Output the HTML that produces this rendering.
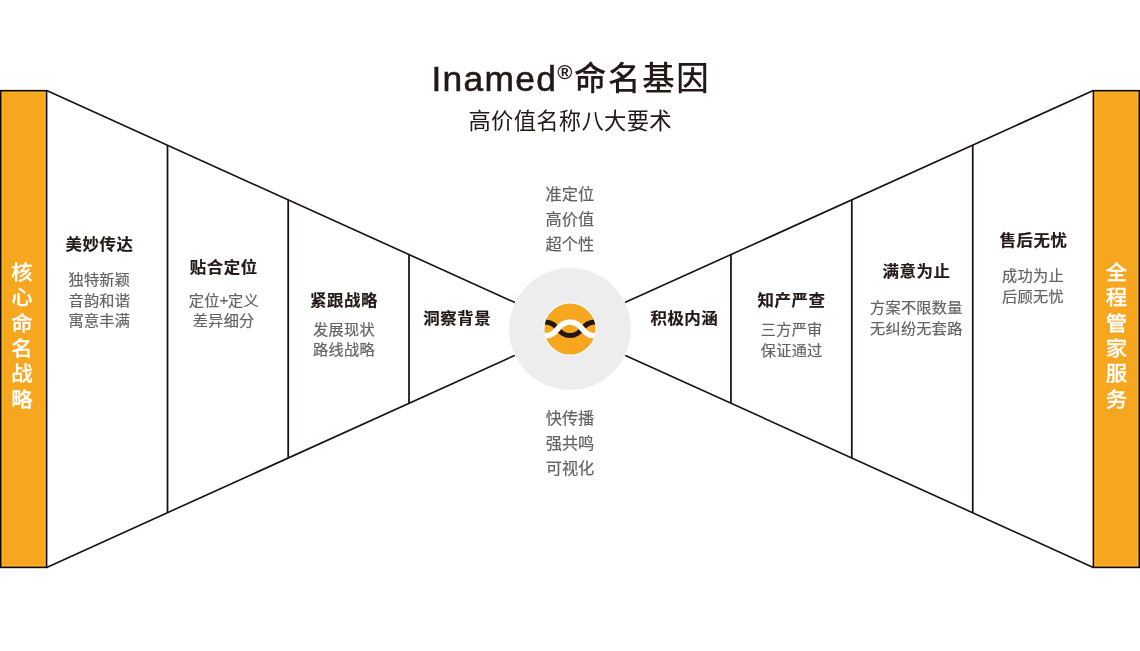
<!DOCTYPE html>
<html lang="zh-CN">
<head>
<meta charset="utf-8">
<title>Inamed®命名基因 高价值名称八大要术</title>
<style>
html,body{margin:0;padding:0;background:#fff;}
body{width:1140px;height:651px;overflow:hidden;position:relative;font-family:"Liberation Sans", "Noto Sans CJK SC", sans-serif;}
svg{position:absolute;left:0;top:0;display:block;will-change:transform;}
text{font-family:"Liberation Sans", "Noto Sans CJK SC", sans-serif;}
.h{font-weight:700;font-size:15.6px;letter-spacing:0.5px;fill:#231815;stroke:#231815;stroke-width:0.15px;text-anchor:middle;}
.b{font-weight:400;font-size:14.4px;letter-spacing:0.25px;fill:#646262;stroke:#646262;stroke-width:0.2px;text-anchor:middle;}
.c{font-weight:400;font-size:16.2px;fill:#646262;stroke:#646262;stroke-width:0.2px;text-anchor:middle;}
.v{font-weight:500;font-size:20.4px;fill:#fff;stroke:#fff;stroke-width:0.25px;text-anchor:middle;}
.t{font-weight:500;font-size:33px;fill:#231815;}
.s{font-weight:400;font-size:22.3px;letter-spacing:0.3px;fill:#231815;text-anchor:middle;}
</style>
</head>
<body>
<svg width="1140" height="651" viewBox="0 0 1140 651">

<g stroke="#1a100e" stroke-width="1.62" fill="none" stroke-linecap="butt">
<path d="M46.7 90.5 L517.9 303.86"/>
<path d="M46.7 567.4 L517.9 353.94"/>
<path d="M1093.3 90.5 L622.1 303.86"/>
<path d="M1093.3 567.4 L622.1 353.94"/>
</g>
<g stroke="#1a100e" stroke-width="1.75" fill="none" stroke-linecap="butt">
<path d="M167.5 145.20 L167.5 512.68"/>
<path d="M288.2 199.85 L288.2 458.00"/>
<path d="M409.0 254.55 L409.0 403.27"/>
<path d="M730.97 254.56 L730.97 403.26"/>
<path d="M851.8 199.85 L851.8 458.00"/>
<path d="M972.75 145.08 L972.75 512.79"/>
</g>
<rect x="0.65" y="90.68" width="45.95" height="476.72" fill="#F6A61F" stroke="#0c0a12" stroke-width="1.6"/>
<rect x="2.50" y="92.53" width="42.25" height="473.02" fill="none" stroke="#FFBD22" stroke-width="1" stroke-opacity="0.75"/>
<rect x="1093.40" y="90.68" width="45.95" height="476.72" fill="#F6A61F" stroke="#0c0a12" stroke-width="1.6"/>
<rect x="1095.25" y="92.53" width="42.25" height="473.02" fill="none" stroke="#FFBD22" stroke-width="1" stroke-opacity="0.75"/>
<circle cx="570" cy="328.95" r="61.25" fill="#fff"/>
<circle cx="570" cy="328.95" r="60.9" fill="#ededed"/>
<clipPath id="lc"><circle cx="570" cy="329.05" r="25.7"/></clipPath>
<circle cx="570" cy="329.05" r="26.75" fill="#f5fbff"/>
<circle cx="570" cy="329.05" r="25.55" fill="#F6A61F"/>
<g clip-path="url(#lc)" fill="none">
<path d="M521.00 335.6 C533.25 335.6 533.25 322.0 545.50 322.0 C557.75 322.0 557.75 335.6 570.00 335.6 C582.25 335.6 582.25 322.0 594.50 322.0 C606.75 322.0 606.75 335.6 619.00 335.6" stroke="#231815" stroke-width="5"/>
<path d="M521.00 322.0 C533.25 322.0 533.25 335.8 545.50 335.8 C557.75 335.8 557.75 322.0 570.00 322.0 C582.25 322.0 582.25 335.8 594.50 335.8 C606.75 335.8 606.75 322.0 619.00 322.0" stroke="#fff" stroke-width="5.6"/>
</g>

<text class="t" x="431.4" y="90.6"><tspan style="font-size:35.4px;font-weight:400;letter-spacing:1.3px;stroke:#231815;stroke-width:0.55px">Inamed</tspan><tspan x="557.25" y="78.8" style="font-size:20.5px;font-weight:700">®</tspan><tspan x="574.0" y="89.9" style="font-size:32.4px;letter-spacing:1.7px">命名基因</tspan></text>
<text class="s" x="570.15" y="129.07">高价值名称八大要术</text>
<text class="h" transform="translate(99.46 250.33) scale(1.055 1)">美妙传达</text>
<text class="h" transform="translate(223.76 272.93) scale(1.055 1)">贴合定位</text>
<text class="h" transform="translate(344.06 305.83) scale(1.055 1)">紧跟战略</text>
<text class="h" transform="translate(457.26 324.23) scale(1.055 1)">洞察背景</text>
<text class="h" transform="translate(684.36 324.23) scale(1.055 1)">积极内涵</text>
<text class="h" transform="translate(791.56 305.93) scale(1.055 1)">知产严查</text>
<text class="h" transform="translate(916.56 276.73) scale(1.055 1)">满意为止</text>
<text class="h" transform="translate(1033.56 245.93) scale(1.055 1)">售后无忧</text>
<text class="b" transform="translate(99.33 285.47) scale(1.055 1)">独特新颖</text>
<text class="b" transform="translate(99.33 305.67) scale(1.055 1)">音韵和谐</text>
<text class="b" transform="translate(99.33 326.27) scale(1.055 1)">寓意丰满</text>
<text class="b" transform="translate(223.83 305.57) scale(1.055 1)">定位<tspan style="letter-spacing:-0.4px" dy="-0.9">+</tspan><tspan dy="0.9">定义</tspan></text>
<text class="b" transform="translate(223.63 326.47) scale(1.055 1)">差异细分</text>
<text class="b" transform="translate(343.93 335.07) scale(1.055 1)">发展现状</text>
<text class="b" transform="translate(343.93 355.37) scale(1.055 1)">路线战略</text>
<text class="b" transform="translate(791.63 335.07) scale(1.055 1)">三方严审</text>
<text class="b" transform="translate(791.63 355.57) scale(1.055 1)">保证通过</text>
<text class="b" transform="translate(916.33 313.07) scale(1.055 1)">方案不限数量</text>
<text class="b" transform="translate(916.33 333.67) scale(1.055 1)">无纠纷无套路</text>
<text class="b" transform="translate(1032.93 280.67) scale(1.055 1)">成功为止</text>
<text class="b" transform="translate(1032.93 301.57) scale(1.055 1)">后顾无忧</text>
<text class="c" x="569.80" y="200.16">准定位</text>
<text class="c" x="569.80" y="225.06">高价值</text>
<text class="c" x="569.80" y="249.76">超个性</text>
<text class="c" x="570.00" y="424.46">快传播</text>
<text class="c" x="570.00" y="449.26">强共鸣</text>
<text class="c" x="570.00" y="474.06">可视化</text>
<text class="v" transform="translate(22.00 280.05) scale(1.05 1)"><tspan x="0" dy="0">核</tspan><tspan x="0" dy="25.35">心</tspan><tspan x="0" dy="25.35">命</tspan><tspan x="0" dy="25.35">名</tspan><tspan x="0" dy="25.35">战</tspan><tspan x="0" dy="25.35">略</tspan></text>
<text class="v" transform="translate(1116.40 280.05) scale(1.05 1)"><tspan x="0" dy="0">全</tspan><tspan x="0" dy="25.35">程</tspan><tspan x="0" dy="25.35">管</tspan><tspan x="0" dy="25.35">家</tspan><tspan x="0" dy="25.35">服</tspan><tspan x="0" dy="25.35">务</tspan></text>
</svg>
</body>
</html>
